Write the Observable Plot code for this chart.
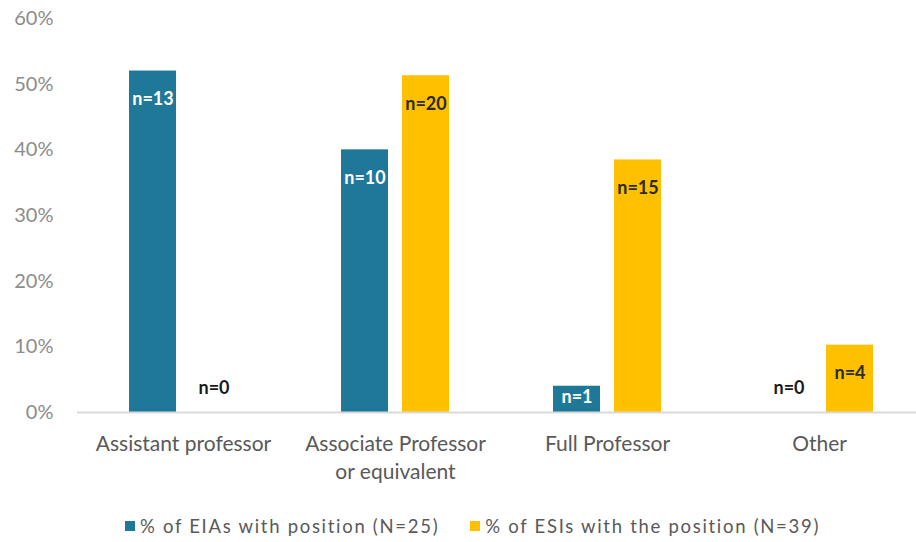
<!DOCTYPE html>
<html>
<head>
<meta charset="utf-8">
<script src="https://cdn.jsdelivr.net/npm/d3@7"></script>
<script src="https://cdn.jsdelivr.net/npm/@observablehq/plot@0.6"></script>
<style>
  html, body { margin: 0; padding: 0; background: #fff; overflow: hidden; width: 916px; height: 542px; }
  #chart { position: relative; width: 916px; }
  #chart svg { max-width: none !important; display: block; }
  .legend { position: absolute; top: 515px; left: 125px; display: flex; align-items: center;
            font-family: Lato, "Open Sans", sans-serif; font-size: 18.5px; letter-spacing: 1.7px;
            color: #595959; white-space: nowrap; }
  .legend .sw { display: inline-block; width: 10px; height: 10px; margin-right: 5px; }
  .legend .item { display: flex; align-items: center; margin-right: 31px; }
</style>
</head>
<body>
<div id="chart"></div>
<script>
// Position held by each group, counts and group sizes
const categories = ["Assistant professor", "Associate Professor\nor equivalent", "Full Professor", "Other"];
const seriesNames = ["% of EIAs with position (N=25)", "% of ESIs with the position (N=39)"];
const seriesKeys = ["EIA", "ESI"];
const eiaCounts = [13, 10, 1, 0];
const esiCounts = [0, 20, 15, 4];
const eiaTotal = 25;
const esiTotal = 39;
const yTicks = [0, 10, 20, 30, 40, 50, 60];
const colors = ["#1f7898", "#ffc000"];

const rows = [];
categories.forEach((c, i) => {
  rows.push({category: c, series: "EIA", n: eiaCounts[i], pct: 100 * eiaCounts[i] / eiaTotal});
  rows.push({category: c, series: "ESI", n: esiCounts[i], pct: 100 * esiCounts[i] / esiTotal});
});

// Layout
const W = 925, H = 490, mTop = 18, mBottom = 78, mLeft = 77;
const pxPerUnit = (H - mTop - mBottom) / 60;
// Count labels sit a little below the top of each bar, kept inside short bars;
// zero counts float just above the baseline.
rows.forEach(d => {
  const top = d.pct * pxPerUnit;
  const off = d.n === 0 ? -24 : Math.min(28, top - 15);
  d.labelY = d.pct - off / pxPerUnit;
  d.labelFill = d.n === 0 ? "#1a1a1a" : (d.series === "EIA" ? "#ffffff" : "#2b2b2b");
});

const chart = Plot.plot({
  width: W,
  height: H,
  marginTop: mTop,
  marginBottom: mBottom,
  marginLeft: mLeft,
  marginRight: 0,
  facet: {marginTop: 0, marginBottom: 0, marginLeft: 0, marginRight: 0},
  style: {fontFamily: "Lato, 'Open Sans', sans-serif", background: "#fff"},
  fx: {domain: categories, padding: 0, label: null},
  x: {domain: seriesKeys, paddingInner: 0.23, paddingOuter: 0.85, axis: null},
  y: {domain: [0, 60], label: null},
  color: {domain: seriesKeys, range: colors},
  marks: [
    Plot.axisY({ticks: yTicks, tickFormat: d => d + "%", tickSize: 0, tickPadding: 24,
                fontSize: 20, color: "#8c8c8c", label: null, style: {letterSpacing: "0.6px"}}),
    Plot.axisFx({anchor: "bottom", tickSize: 0, tickPadding: 18, fontSize: 21,
                 color: "#595959", lineHeight: 1.35, label: null, style: {letterSpacing: "1.2px"}}),
    Plot.barY(rows, {fx: "category", x: "series", y: "pct", fill: "series"}),
    Plot.ruleY([0], {stroke: "#d9d9d9", strokeWidth: 2}),
    Plot.text(rows, {fx: "category", x: "series", y: "labelY", text: d => "n=" + d.n,
                     fill: "labelFill", fontWeight: "bold", fontSize: 18,
                     style: {letterSpacing: "0.8px"}})
  ]
});

const root = document.getElementById("chart");
root.appendChild(chart);

const legend = document.createElement("div");
legend.className = "legend";
seriesNames.forEach((name, i) => {
  const item = document.createElement("span");
  item.className = "item";
  const sw = document.createElement("span");
  sw.className = "sw";
  sw.style.background = colors[i];
  item.appendChild(sw);
  item.appendChild(document.createTextNode(name));
  legend.appendChild(item);
});
root.appendChild(legend);
</script>
</body>
</html>
